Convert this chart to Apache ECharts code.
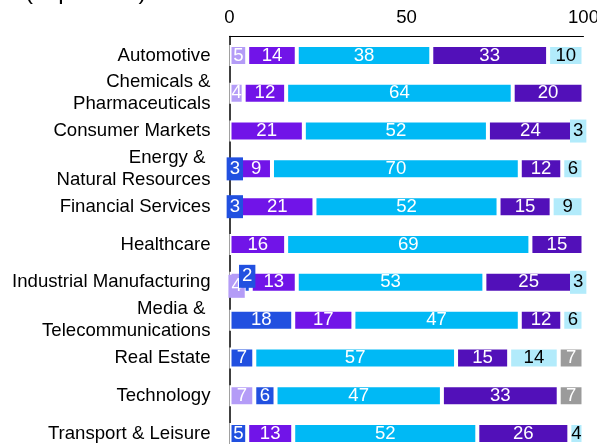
<!DOCTYPE html>
<html>
<head>
<meta charset="utf-8">
<script src="https://cdn.jsdelivr.net/npm/echarts@6/dist/echarts.min.js"></script>
<style>
  html, body { margin: 0; padding: 0; background: #fff; }
  #chart { width: 597px; height: 444px; }
</style>
</head>
<body>
<div id="chart"></div>
<script>
// Industry rows, top to bottom
const categories = [
  'Automotive',
  'Chemicals &\nPharmaceuticals',
  'Consumer Markets',
  'Energy & \nNatural Resources',
  'Financial Services',
  'Healthcare',
  'Industrial Manufacturing',
  'Media & \nTelecommunications',
  'Real Estate',
  'Technology',
  'Transport & Leisure'
];

// Tick values on the percentage axis
const tickValues = [0, 50, 100];

// Stacked shares (percent); null = no segment
const lavenderShare  = [5, 4, null, null, null, null, 4, null, null, 7, null];
const blueShare      = [null, null, null, 3, 3, null, 2, 18, 7, 6, 5];
const violetShare    = [14, 12, 21, 9, 21, 16, 13, 17, null, null, 13];
const cyanShare      = [38, 64, 52, 70, 52, 69, 53, 47, 57, 47, 52];
const indigoShare    = [33, 20, 24, 12, 15, 15, 25, 12, 15, 33, 26];
const paleCyanShare  = [10, null, 3, 6, 9, null, 3, 6, 14, null, 4];
const greyShare      = [null, null, null, null, null, null, null, null, 7, 7, null];

const FONT = '"Liberation Sans", Arial, Helvetica, sans-serif';
const FS = 18.6;

const layers = [
  { name: 'Lavender',  values: lavenderShare, color: '#b49cf7', text: '#ffffff' },
  { name: 'Blue',      values: blueShare,     color: '#2150e0', text: '#ffffff' },
  { name: 'Violet',    values: violetShare,   color: '#7114e8', text: '#ffffff' },
  { name: 'Cyan',      values: cyanShare,     color: '#00b9f5', text: '#ffffff' },
  { name: 'Indigo',    values: indigoShare,   color: '#5210b9', text: '#ffffff' },
  { name: 'Pale cyan', values: paleCyanShare, color: '#b2ebfb', text: '#000000' },
  { name: 'Grey',      values: greyShare,     color: '#9b9b9b', text: '#ffffff' }
];

// Labels that collide in the crowded row are nudged apart vertically
const nudges = {
  'Industrial Manufacturing': { 'Lavender': 4, 'Blue': -6 }
};

function buildData(layer) {
  return layer.values.map(function (v, i) {
    if (v === null) return '-';
    const nudge = (nudges[categories[i]] || {})[layer.name];
    const boxed = v <= 3 || nudge !== undefined;
    const item = { value: v };
    if (boxed) {
      item.label = {
        backgroundColor: layer.color,
        padding: [2, 3, 2, 3],
        offset: [0, nudge || 0]
      };
    }
    return item;
  });
}

const chart = echarts.init(document.getElementById('chart'), null, { renderer: 'canvas' });

chart.setOption({
  animation: false,
  backgroundColor: '#ffffff',
  graphic: [{
    type: 'text',
    left: 25,
    top: -20,
    style: {
      text: '(in percent)',
      font: '24px ' + FONT,
      fill: '#000000'
    }
  }],
  grid: {
    left: 229.5,
    right: 13.5,
    top: 36.5,
    height: 416,
    containLabel: false,
    outerBoundsMode: 'none'
  },
  xAxis: {
    type: 'value',
    position: 'top',
    min: tickValues[0],
    max: tickValues[tickValues.length - 1],
    interval: tickValues[1] - tickValues[0],
    axisLine: { show: true, lineStyle: { color: '#000000', width: 1 } },
    axisTick: { show: false },
    splitLine: { show: false },
    axisLabel: { color: '#000000', fontSize: FS, fontFamily: FONT, margin: 9 }
  },
  yAxis: {
    type: 'category',
    inverse: true,
    data: categories,
    axisLine: { show: true, lineStyle: { color: '#000000', width: 1.5 } },
    axisTick: { show: false },
    axisLabel: {
      color: '#000000',
      fontSize: FS,
      fontFamily: FONT,
      lineHeight: 22,
      margin: 19,
      align: 'right'
    }
  },
  series: layers.map(function (layer) {
    return {
      name: layer.name,
      type: 'bar',
      stack: 'share',
      barWidth: 21,
      data: buildData(layer),
      itemStyle: { color: layer.color, borderColor: '#ffffff', borderWidth: 2 },
      label: {
        show: true,
        position: 'inside',
        color: layer.text,
        fontSize: FS,
        fontFamily: FONT,
        lineHeight: 19,
        formatter: '{c}'
      }
    };
  })
});
</script>
</body>
</html>
